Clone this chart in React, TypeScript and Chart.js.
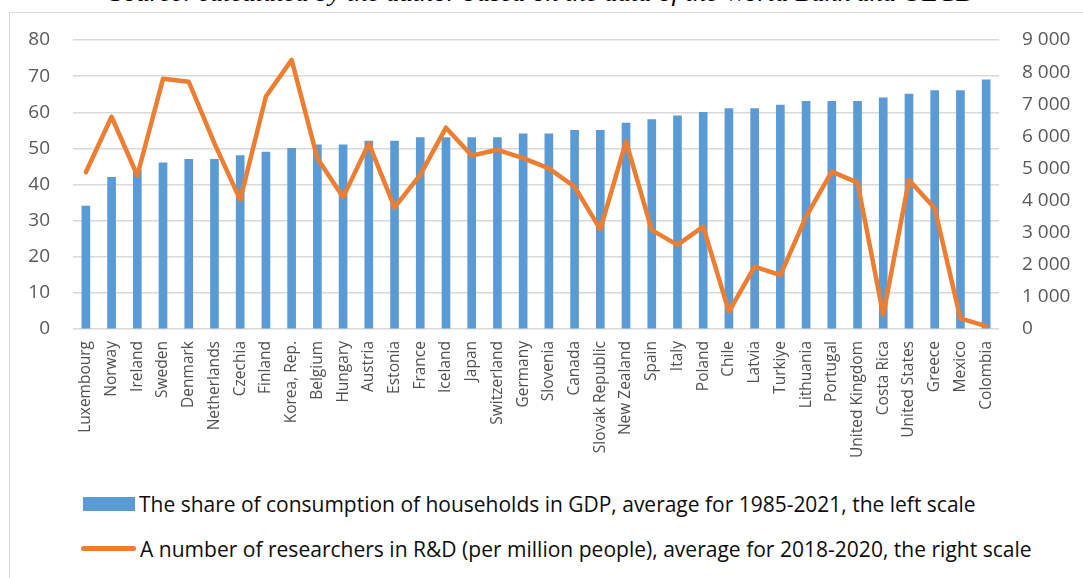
import React, { useEffect, useLayoutEffect, useRef } from "react";
import { Chart, registerables } from "chart.js";

Chart.register(...registerables);

const categories = [
  "Luxembourg", "Norway", "Ireland", "Sweden", "Denmark", "Netherlands", "Czechia", "Finland",
  "Korea, Rep.", "Belgium", "Hungary", "Austria", "Estonia", "France", "Iceland", "Japan",
  "Switzerland", "Germany", "Slovenia", "Canada", "Slovak Republic", "New Zealand", "Spain",
  "Italy", "Poland", "Chile", "Latvia", "Turkiye", "Lithuania", "Portugal", "United Kingdom",
  "Costa Rica", "United States", "Greece", "Mexico", "Colombia",
];

const consumptionShare = [
  34, 42, 44, 46, 47, 47, 48, 49, 50, 51, 51, 52, 52, 53, 53, 53, 53, 54, 54, 55, 55, 57, 58, 59,
  60, 61, 61, 62, 63, 63, 63, 64, 65, 66, 66, 69,
];

const researchers = [
  4880, 6610, 4780, 7790, 7700, 5780, 4020, 7240, 8380, 5320, 4100, 5780, 3790, 4800, 6270, 5400,
  5580, 5320, 5000, 4430, 3100, 5840, 3080, 2620, 3190, 540, 1940, 1680, 3500, 4900, 4560, 440,
  4640, 3760, 330, 90,
];

const leftTicks = { min: 0, max: 80, step: 10 };
const rightTicks = { min: 0, max: 9000, step: 1000 };

const barLabel =
  "The share of consumption of households in GDP, average for 1985-2021, the left scale";
const lineLabel =
  "A number of researchers in R&D (per million people), average for 2018-2020, the right scale";
const sourceText =
  "Source: calculated by the author based on the data of the World Bank and OECD";

const BLUE = "#5B9BD5";
const ORANGE = "#ED7D31";
const FONT = '"Open Sans", "Noto Sans", sans-serif';

const fmtThousands = (v: number) => {
  if (v === 0) return "0";
  const th = Math.floor(v / 1000);
  const rest = v % 1000;
  return `${th} ${String(rest).padStart(3, "0")}`;
};

function FitText(props: {
  text: string;
  left: number;
  top: number;
  width: number;
  style: React.CSSProperties;
}) {
  const ref = useRef<HTMLSpanElement | null>(null);
  useLayoutEffect(() => {
    const fit = () => {
      const el = ref.current;
      if (!el) return;
      const w = el.offsetWidth;
      if (w > 0) el.style.transform = `scaleX(${props.width / w})`;
    };
    fit();
    (document as any).fonts?.ready?.then(fit);
  }, [props.text, props.width]);
  return (
    <span
      ref={ref}
      style={{
        position: "absolute",
        left: props.left,
        top: props.top,
        whiteSpace: "nowrap",
        transformOrigin: "0 0",
        ...props.style,
      }}
    >
      {props.text}
    </span>
  );
}

export default function App() {
  const canvasRef = useRef<HTMLCanvasElement | null>(null);

  useEffect(() => {
    let chart: Chart | null = null;
    let cancelled = false;
    const make = () => {
      if (cancelled || !canvasRef.current) return;
      chart = new Chart(canvasRef.current, {
        type: "bar",
        data: {
          labels: categories,
          datasets: [
            {
              type: "line",
              label: lineLabel,
              data: researchers,
              yAxisID: "y1",
              borderColor: ORANGE,
              backgroundColor: ORANGE,
              borderWidth: 4.5,
              pointRadius: 0,
              tension: 0,
              borderJoinStyle: "round",
              borderCapStyle: "round",
              order: 0,
            } as any,
            {
              type: "bar",
              label: barLabel,
              data: consumptionShare,
              yAxisID: "y",
              backgroundColor: BLUE,
              barThickness: 8,
              order: 1,
            } as any,
          ],
        },
        options: {
          responsive: false,
          animation: false,
          layout: { padding: { top: 40, left: 0, right: 0, bottom: 0 } },
          plugins: { legend: { display: false }, tooltip: { enabled: false } },
          scales: {
            x: {
              grid: { display: false, drawTicks: false },
              border: { display: false },
              ticks: {
                minRotation: 90,
                maxRotation: 90,
                autoSkip: false,
                padding: 12,
                color: "#505050",
                font: { family: FONT, size: 15.5 },
              },
              afterFit: (s: any) => {
                s.height = 141;
              },
            },
            y: {
              position: "left",
              min: leftTicks.min,
              max: leftTicks.max,
              ticks: {
                stepSize: leftTicks.step,
                padding: 23,
                color: "#595959",
                font: { family: FONT, size: 19 },
              },
              grid: { color: "#d9d9d9", lineWidth: 1.5, drawTicks: false },
              border: { display: false },
              afterFit: (s: any) => {
                s.width = 73;
              },
            },
            y1: {
              position: "right",
              min: rightTicks.min,
              max: rightTicks.max,
              ticks: {
                stepSize: rightTicks.step,
                padding: 23,
                color: "#595959",
                font: { family: FONT, size: 19 },
                callback: (v: any) => fmtThousands(Number(v)),
              },
              grid: { display: false, drawTicks: false },
              border: { display: false },
              afterFit: (s: any) => {
                s.width = 84;
              },
            },
          },
        } as any,
      });
    };
    const fonts = (document as any).fonts;
    if (fonts && fonts.load) {
      Promise.all([
        fonts.load('19px "Open Sans"'),
        fonts.load('15px "Open Sans"'),
      ])
        .catch(() => null)
        .then(make);
    } else {
      make();
    }
    return () => {
      cancelled = true;
      if (chart) chart.destroy();
    };
  }, []);

  return (
    <div
      style={{
        position: "absolute",
        left: 0,
        top: 0,
        width: 1083,
        height: 578,
        overflow: "hidden",
        background: "#ffffff",
      }}
    >
      <div
        style={{
          position: "absolute",
          left: 9,
          top: 12,
          width: 1100,
          height: 600,
          borderLeft: "1.5px solid #d9d9d9",
          borderTop: "1.5px solid #d9d9d9",
        }}
      />
      <FitText
        text={sourceText}
        left={110}
        top={-19}
        width={865}
        style={{
          fontFamily: '"Liberation Serif", "DejaVu Serif", serif',
          fontStyle: "italic",
          fontSize: 24,
          lineHeight: "24px",
          color: "#000000",
        }}
      />
      <canvas
        ref={canvasRef}
        width={1083}
        height={470}
        style={{ position: "absolute", left: 0, top: 0, width: 1083, height: 470 }}
      />
      <div
        style={{
          position: "absolute",
          left: 83,
          top: 497,
          width: 52,
          height: 14,
          background: BLUE,
        }}
      />
      <FitText
        text={barLabel}
        left={139}
        top={488}
        width={837}
        style={{ fontFamily: FONT, fontSize: 22, lineHeight: "30px", color: "#0d0d0d" }}
      />
      <div
        style={{
          position: "absolute",
          left: 81,
          top: 546,
          width: 55,
          height: 5,
          borderRadius: 3,
          background: ORANGE,
        }}
      />
      <FitText
        text={lineLabel}
        left={140}
        top={533}
        width={892}
        style={{ fontFamily: FONT, fontSize: 22, lineHeight: "30px", color: "#0d0d0d" }}
      />
    </div>
  );
}
